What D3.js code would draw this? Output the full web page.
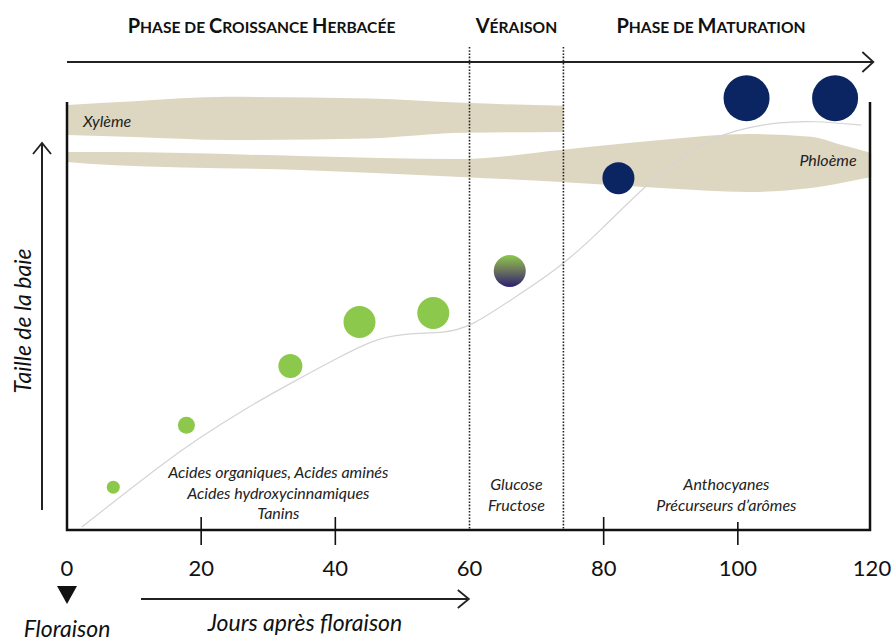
<!DOCTYPE html>
<html><head><meta charset="utf-8">
<script src="https://cdn.jsdelivr.net/npm/d3@7"></script>
<style>
html,body{margin:0;padding:0;background:#fff;}
svg{display:block;}
text{font-family:Lato,"Open Sans",sans-serif;}
</style></head>
<body>
<svg id="chart" width="896" height="638"></svg>
<script>
// ---- data ----
const xTickLabels = [0, 20, 40, 60, 80, 100, 120];
const xTickMarks = [20, 40, 80, 100];
const phaseBounds = [60, 74];
const phases = ["Phase de Croissance Herbacée", "Véraison", "Phase de Maturation"];
const phaseCenters = [29, 67, 96];

const berryDays = [6.9, 17.8, 33.3, 43.6, 54.6, 66.0, 82.2, 101.3, 114.5];
const berrySize = [10.0, 24.5, 38.3, 48.6, 50.7, 60.5, 82.2, 100.9, 100.9];
const berryRadius = [6.5, 8.5, 12, 16, 16, 16, 16, 23, 23];
const berryColor = ["green", "green", "green", "green", "green", "mix", "blue", "blue", "blue"];

const growthDays = [2.2, 7.9, 13.9, 18.8, 26.9, 33.7, 41.2, 46.3, 51.2, 56.1, 60.1, 66.1, 73.6, 79.6, 86.6, 93.4, 99.4, 106, 111.3, 118.4];
const growthSize = [0.7, 7.7, 15.0, 20.6, 28.7, 34.6, 40.9, 44.9, 46.0, 46.0, 47.4, 53.7, 61.4, 70.1, 81.1, 89.5, 93.5, 95.3, 95.6, 94.6];

const xylemDays = [0, 10, 24, 45, 59, 74];
const xylemTop = [99.3, 100.2, 101.2, 100.8, 99.8, 99.1];
const xylemBottom = [92.3, 91.8, 91.1, 91.5, 92.8, 93.0];

const phloemDays = [0, 6.4, 34.8, 58.7, 73.6, 88.5, 101.5, 110.9, 115.4, 119.9];
const phloemTop = [88.3, 88.3, 87.4, 86.7, 88.8, 91.1, 92.5, 91.9, 90.0, 88.1];
const phloemBottom = [86.0, 85.3, 84.1, 82.5, 81.3, 79.9, 79.0, 79.9, 81.1, 82.5];

const compounds = [
  {lines: ["Acides organiques, Acides aminés", "Acides hydroxycinnamiques", "Tanins"], day: 31.5},
  {lines: ["Glucose", "Fructose"], day: 67},
  {lines: ["Anthocyanes", "Précurseurs d’arômes"], day: 98.3}
];

// ---- drawing ----
const svg = d3.select("#chart");
const x = d3.scaleLinear().domain([0, 120]).range([67, 872]);
const y = d3.scaleLinear().domain([0, 100]).range([530, 102]);
const beige = "#ddd7c2";
const green = "#8cc84b";
const navy = "#0b2462";

const defs = svg.append("defs");
const grad = defs.append("linearGradient").attr("id", "mixGrad")
  .attr("x1", 0).attr("y1", 0).attr("x2", 0).attr("y2", 1);
grad.append("stop").attr("offset", "0%").attr("stop-color", "#8cc84b");
grad.append("stop").attr("offset", "45%").attr("stop-color", "#6e7a5c");
grad.append("stop").attr("offset", "100%").attr("stop-color", "#2c1f72");

// bands
const band = d3.area().curve(d3.curveMonotoneX);
const xylem = xylemDays.map((d, i) => [d, xylemTop[i], xylemBottom[i]]);
svg.append("path").attr("fill", beige)
  .attr("d", band.x(d => x(d[0])).y0(d => y(d[2])).y1(d => y(d[1]))(xylem));
const phloem = phloemDays.map((d, i) => [d, phloemTop[i], phloemBottom[i]]);
svg.append("path").attr("fill", beige)
  .attr("d", band.x(d => x(d[0])).y0(d => y(d[2])).y1(d => y(d[1]))(phloem));

svg.append("text").attr("x", x(2.4)).attr("y", y(94.1)).attr("font-size", 16)
  .attr("font-style", "italic").attr("fill", "#222").text("Xylème");
svg.append("text").attr("x", x(117.7)).attr("y", y(85.1)).attr("font-size", 16)
  .attr("font-style", "italic").attr("fill", "#222").attr("text-anchor", "end").text("Phloème");

// growth curve
const growth = growthDays.map((d, i) => [d, growthSize[i]]);
svg.append("path").attr("fill", "none").attr("stroke", "#d4d4d4").attr("stroke-width", 1.2)
  .attr("d", d3.line().curve(d3.curveBasis).x(d => x(d[0])).y(d => y(d[1]))(growth));

// phase boundaries
phaseBounds.forEach(b => {
  svg.append("line").attr("x1", x(b)).attr("x2", x(b)).attr("y1", 47).attr("y2", 530)
    .attr("stroke", "#222").attr("stroke-width", 1.6).attr("stroke-dasharray", "1.6,1.6");
});

// top arrow
svg.append("line").attr("x1", x(0)).attr("x2", x(120.2)).attr("y1", 62).attr("y2", 62)
  .attr("stroke", "#222").attr("stroke-width", 2);
svg.append("path").attr("fill", "none").attr("stroke", "#222").attr("stroke-width", 1.8)
  .attr("d", `M${x(120.2) - 11},${52} L${x(120.2)},62 L${x(120.2) - 11},${72}`);

// phase titles (small caps)
phases.forEach((p, i) => {
  const t = svg.append("text").attr("x", x(phaseCenters[i])).attr("y", 33)
    .attr("text-anchor", "middle").attr("font-weight", 700).attr("fill", "#111");
  Array.from(p).forEach(ch => {
    const big = ch !== " " && ch === ch.toUpperCase();
    t.append("tspan").attr("font-size", big ? 20 : 15.6).text(ch.toUpperCase());
  });
});

// frame
svg.append("path").attr("fill", "none").attr("stroke", "#111").attr("stroke-width", 2.5)
  .attr("d", `M${x(0)},102 L${x(0)},${y(0)} L${x(120)-2},${y(0)} L${x(120)-2},102`);

// ticks
xTickMarks.forEach(t => {
  svg.append("line").attr("x1", x(t)).attr("x2", x(t)).attr("y1", t === 100 ? 522 : 517).attr("y2", 545)
    .attr("stroke", "#111").attr("stroke-width", 1.6);
});
svg.selectAll(".xlab").data(xTickLabels).enter().append("text")
  .attr("x", d => x(d)).attr("y", 576).attr("text-anchor", "middle")
  .attr("font-size", 22).attr("fill", "#111").text(d => d);

// compounds
compounds.forEach(c => {
  const start = c.lines.length === 3 ? 478 : 490;
  c.lines.forEach((l, i) => {
    svg.append("text").attr("x", x(c.day)).attr("y", start + i * 20.5)
      .attr("text-anchor", "middle").attr("font-size", 16).attr("font-style", "italic")
      .attr("fill", "#222").text(l);
  });
});

// berries
const berries = berryDays.map((d, i) => ({d, s: berrySize[i], r: berryRadius[i], c: berryColor[i]}));
svg.selectAll(".berry").data(berries).enter().append("circle")
  .attr("cx", d => x(d.d)).attr("cy", d => y(d.s)).attr("r", d => d.r)
  .attr("fill", d => d.c === "green" ? green : d.c === "blue" ? navy : "url(#mixGrad)");

// y arrow
svg.append("line").attr("x1", 42).attr("x2", 42).attr("y1", 510).attr("y2", 143)
  .attr("stroke", "#222").attr("stroke-width", 2);
svg.append("path").attr("fill", "none").attr("stroke", "#222").attr("stroke-width", 1.8)
  .attr("d", "M33,154 L42,143 L51,154");
svg.append("text").attr("transform", "translate(31,321) rotate(-90)")
  .attr("text-anchor", "middle").attr("font-size", 23).attr("font-style", "italic")
  .attr("fill", "#111").text("Taille de la baie");

// bottom: floraison marker and days arrow
svg.append("path").attr("fill", "#111")
  .attr("d", `M${x(0) - 10},586 L${x(0) + 10},586 L${x(0)},604 Z`);
svg.append("text").attr("x", x(0)).attr("y", 637).attr("text-anchor", "middle")
  .attr("font-size", 23).attr("font-style", "italic").attr("fill", "#111").text("Floraison");
svg.append("line").attr("x1", 141).attr("x2", x(59.9)).attr("y1", 599).attr("y2", 599)
  .attr("stroke", "#222").attr("stroke-width", 2);
svg.append("path").attr("fill", "none").attr("stroke", "#222").attr("stroke-width", 1.8)
  .attr("d", `M${x(59.9) - 11},590 L${x(59.9)},599 L${x(59.9) - 11},608`);
svg.append("text").attr("x", 305).attr("y", 631).attr("text-anchor", "middle")
  .attr("font-size", 23).attr("font-style", "italic").attr("fill", "#111").text("Jours après floraison");
</script>
</body></html>
